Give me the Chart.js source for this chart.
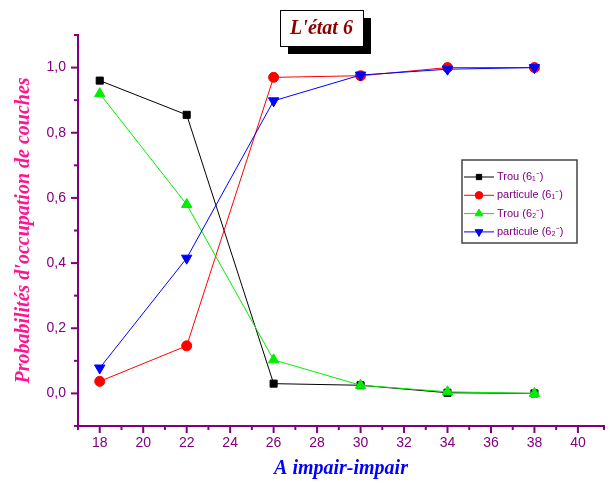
<!DOCTYPE html>
<html><head><meta charset="utf-8">
<script src="https://cdn.jsdelivr.net/npm/chart.js@4"></script>
<style>html,body{margin:0;padding:0;background:#fff}#wrap{width:613px;height:483px;position:relative}</style>
</head><body><div id="wrap"><canvas id="c" width="613" height="483"></canvas></div>
<script>
const xValues = [18, 22, 26, 30, 34, 38];
const trou61 = [0.96, 0.855, 0.03, 0.025, 0.002, 0.0];
const particule61 = [0.037, 0.146, 0.97, 0.975, 1.0, 1.0];
const trou62 = [0.92, 0.58, 0.103, 0.025, 0.005, 0.0];
const particule62 = [0.078, 0.415, 0.898, 0.977, 0.995, 1.0];
const seriesLabels = ['Trou (6\u2081\u207B)', 'particule (6\u2081\u207B)', 'Trou (6\u2082\u207B)', 'particule (6\u2082\u207B)'];
const chartTitle = "L'\u00e9tat 6";
const xTitle = 'A impair-impair';
const yTitle = "Probabilit\u00e9s d'occupation de couches";

const PURPLE = '#800080';
const pts = arr => arr.map((v, i) => ({x: xValues[i], y: v}));

const tickPlugin = {
  id: 'customTicks',
  afterDraw(chart) {
    const ctx = chart.ctx;
    const xs = chart.scales.x, ys = chart.scales.y;
    ctx.save();
    ctx.strokeStyle = PURPLE;
    ctx.lineWidth = 2;
    xs.ticks.forEach(t => {
      const v = t.value;
      const major = Math.round(v) % 2 === 0;
      const px = xs.getPixelForValue(v);
      ctx.beginPath();
      ctx.moveTo(px, xs.top);
      ctx.lineTo(px, xs.top + (major ? 7 : 4));
      ctx.stroke();
    });
    ys.ticks.forEach(t => {
      const v = t.value;
      const major = Math.round(v * 10) % 2 === 0;
      const py = ys.getPixelForValue(v);
      ctx.beginPath();
      ctx.moveTo(ys.right, py);
      ctx.lineTo(ys.right - (major ? 7 : 4), py);
      ctx.stroke();
    });
    ctx.restore();
  }
};

const boxPlugin = {
  id: 'boxes',
  afterDraw(chart) {
    const ctx = chart.ctx;
    ctx.save();
    // title box with shadow
    const bx = 280, by = 10, bw = 83, bh = 36;
    ctx.fillStyle = '#000';
    ctx.fillRect(bx + 8, by + 8, bw, bh);
    ctx.fillStyle = '#fff';
    ctx.fillRect(bx, by, bw, bh);
    ctx.strokeStyle = '#000';
    ctx.lineWidth = 1;
    ctx.strokeRect(bx + 0.5, by + 0.5, bw, bh);
    ctx.fillStyle = '#8B0000';
    ctx.font = 'italic bold 20px "Liberation Serif", serif';
    ctx.textAlign = 'center';
    ctx.textBaseline = 'middle';
    ctx.fillText(chartTitle, bx + bw / 2, by + bh / 2 + 1);

    // legend
    const lx = 462, ly = 160, lw = 115, lh = 83;
    ctx.fillStyle = '#fff';
    ctx.fillRect(lx, ly, lw, lh);
    ctx.strokeStyle = '#444';
    ctx.lineWidth = 1.5;
    ctx.strokeRect(lx, ly, lw, lh);
    ctx.font = '11px "Liberation Sans", Arial, sans-serif';
    ctx.textAlign = 'left';
    ctx.textBaseline = 'middle';
    chart.data.datasets.forEach((ds, i) => {
      const yy = ly + 17 + i * 18.3;
      ctx.strokeStyle = ds.borderColor;
      ctx.lineWidth = 1;
      ctx.beginPath();
      ctx.moveTo(lx + 2, yy);
      ctx.lineTo(lx + 32, yy);
      ctx.stroke();
      ctx.fillStyle = ds.pointBackgroundColor;
      ctx.strokeStyle = ds.pointBackgroundColor;
      Chart.helpers.drawPoint(ctx, {
        pointStyle: ds.pointStyle, radius: ds.pointRadius * 0.75, rotation: ds.rotation || 0,
        borderWidth: 1
      }, lx + 17, yy);
      ctx.fillStyle = PURPLE;
      ctx.fillText(ds.label, lx + 35, yy);
    });
    ctx.restore();
  }
};

const mk = (label, data, color, style, radius, order, rotation) => ({
  label, data: pts(data), borderColor: color, backgroundColor: color,
  pointBackgroundColor: color, pointBorderColor: color, pointStyle: style,
  pointRadius: radius, pointHoverRadius: radius, rotation: rotation || 0,
  borderWidth: 1, tension: 0, fill: false, order
});

new Chart(document.getElementById('c'), {
  type: 'line',
  data: {
    datasets: [
      mk(seriesLabels[0], trou61, '#000000', 'rect', 5, 3),
      mk(seriesLabels[1], particule61, '#ff0000', 'circle', 5, 2),
      mk(seriesLabels[2], trou62, '#00ee00', 'triangle', 6, 1),
      mk(seriesLabels[3], particule62, '#0000ff', 'triangle', 6, 0, 180)
    ]
  },
  options: {
    responsive: false,
    animation: false,
    layout: {padding: {left: 12, right: 9, top: 35, bottom: 0}},
    plugins: {legend: {display: false}, tooltip: {enabled: false}},
    scales: {
      x: {
        type: 'linear', min: 17, max: 41.2,
        afterFit: s => { s.height = 57; },
        grid: {display: false, drawTicks: false},
        border: {display: true, color: PURPLE, width: 2},
        ticks: {
          stepSize: 1, autoSkip: false, maxRotation: 0, padding: 9,
          color: PURPLE, font: {family: '"Liberation Sans", Arial, sans-serif', size: 14},
          callback: v => (Math.round(v) % 2 === 0 && v <= 40) ? String(v) : ''
        },
        title: {display: true, text: xTitle, color: '#0000ff', padding: {top: 2, bottom: 2},
          font: {family: '"Liberation Serif", serif', size: 20, style: 'italic', weight: 'bold'}}
      },
      y: {
        type: 'linear', min: -0.1, max: 1.1,
        afterFit: s => { s.width = 66; },
        grid: {display: false, drawTicks: false},
        border: {display: true, color: PURPLE, width: 2},
        ticks: {
          stepSize: 0.1, autoSkip: false, padding: 12,
          color: PURPLE, font: {family: '"Liberation Sans", Arial, sans-serif', size: 14},
          callback: v => {
            const k = Math.round(v * 10);
            return (k % 2 === 0 && k >= 0 && k <= 10) ? (k / 10).toFixed(1).replace('.', ',') : '';
          }
        },
        title: {display: true, text: yTitle, color: '#ff1493', padding: {top: 0, bottom: 2},
          font: {family: '"Liberation Serif", serif', size: 20, style: 'italic', weight: 'bold'}}
      }
    }
  },
  plugins: [tickPlugin, boxPlugin]
});
</script></body></html>
